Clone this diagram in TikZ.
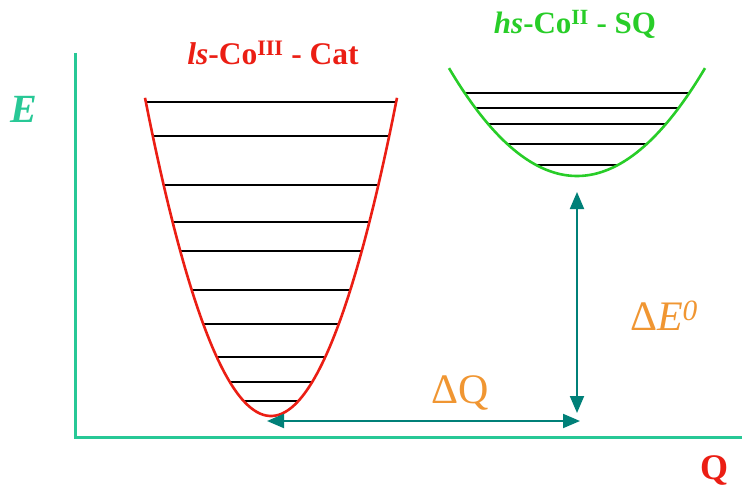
\documentclass[tikz,border=0pt]{standalone}
\usepackage{fontspec}
\setmainfont{Liberation Serif}
\usetikzlibrary{arrows.meta}
\definecolor{axisc}{RGB}{40,200,150}
\definecolor{arrc}{RGB}{0,128,120}
\definecolor{redc}{RGB}{235,30,20}
\definecolor{greenc}{RGB}{40,205,40}
\definecolor{orangec}{RGB}{240,150,50}
\tikzset{
  axisline/.style={draw=axisc, line width=3pt},
  levelline/.style={draw=black, line width=1.6pt},
  wellred/.style={draw=redc, line width=2.6pt},
  wellgreen/.style={draw=greenc, line width=2.6pt},
  dimarrow/.style={draw=arrc, line width=2pt, {Triangle[length=17pt,width=14pt]}-{Triangle[length=17pt,width=14pt]}},
  lbl/.style={inner sep=0pt, anchor=base},
}
\begin{document}
\begin{tikzpicture}[x=1pt,y=-1pt]
\useasboundingbox (0,0) rectangle (742,487);
% axes
\coordinate (ytop) at (75,53);
\coordinate (origin) at (75,437);
\coordinate (xend) at (742,437);
\draw[axisline] (ytop) -- (origin) -- (xend);
\node[lbl, text=axisc, font=\fontsize{40}{44}\selectfont\bfseries\itshape] (E) at (24,122) {E};
\node[lbl, text=redc, font=\fontsize{36}{40}\selectfont\bfseries] (Q) at (714,479) {Q};
% red well: y = 416 - (x-271)^2/49.9
\foreach \yy in {101.7,136,185,222,251,290,324,357,382,401}{
  \pgfmathsetmacro{\hw}{sqrt((416-\yy)*49.9)}
  \draw[levelline] ({271-\hw},\yy) -- ({271+\hw},\yy);
}
\draw[wellred] plot[domain=-126:126, samples=80, smooth] ({271+\x},{416-\x*\x/49.9});
% green well: y = 176 - (x-577)^2/151.9
\foreach \yy in {93,108,124,144,165}{
  \pgfmathsetmacro{\hw}{sqrt((176-\yy)*151.9)}
  \draw[levelline] ({577-\hw},\yy) -- ({577+\hw},\yy);
}
\draw[wellgreen] plot[domain=-128:128, samples=80, smooth] ({577+\x},{176-\x*\x/151.9});
% labels of wells
\node[lbl, text=redc, font=\fontsize{31.5}{35}\selectfont\bfseries] (lsl) at (273,65) {\textit{ls}-Co\textsuperscript{III} - Cat};
\node[lbl, text=greenc, font=\fontsize{31}{35}\selectfont\bfseries] (hsl) at (575,34) {\textit{hs}-Co\textsuperscript{II} - SQ};
% arrows
\coordinate (redmin) at (267,421);
\coordinate (qend) at (580,421);
\coordinate (ebot) at (577,413);
\coordinate (etop) at (577,192);
\draw[dimarrow] (redmin) -- (qend);
\draw[dimarrow] (ebot) -- (etop);
\node[lbl, text=orangec, font=\fontsize{42}{46}\selectfont] (dQ) at (460,403) {ΔQ};
\node[lbl, text=orangec, font=\fontsize{42}{46}\selectfont] (dE) at (664,330) {Δ\textit{E}\textsuperscript{\textit{0}}};
\end{tikzpicture}
\end{document}
